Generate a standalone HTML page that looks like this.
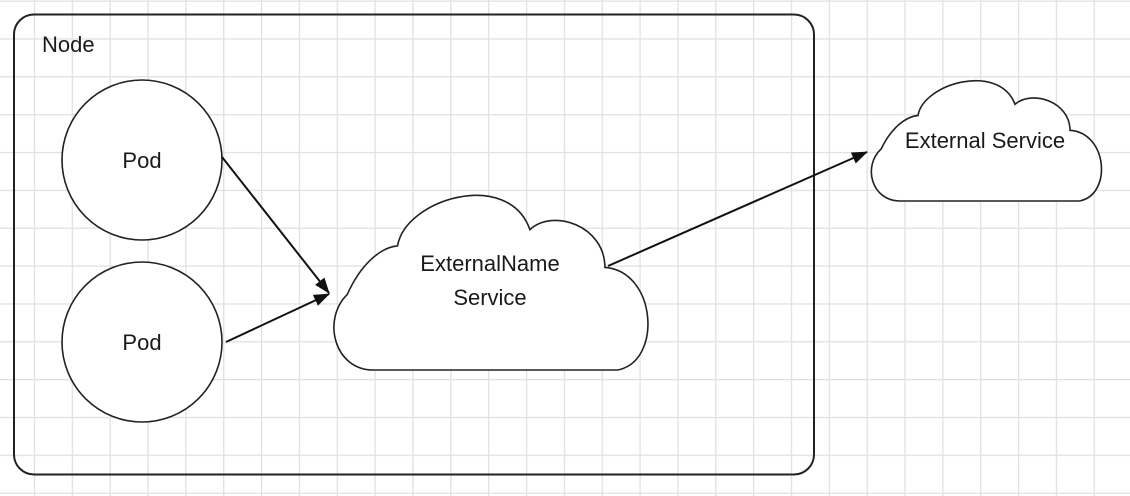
<!DOCTYPE html>
<html><head><style>
html,body{margin:0;padding:0;background:#fff;}
svg{display:block;}
text{font-family:"Liberation Sans",sans-serif;font-size:22px;fill:#1a1a1a;}
</style></head><body>
<svg width="1130" height="496" viewBox="0 0 1130 496" xmlns="http://www.w3.org/2000/svg">
<defs>
<pattern id="g" x="-4" y="0.5" width="37.85" height="37.85" patternUnits="userSpaceOnUse">
<path d="M0.5 0V37.85M0 0.5H37.85" stroke="#e0e0e0" stroke-width="1.5" fill="none"/>
</pattern>
<marker id="a" markerWidth="16" markerHeight="12" refX="15" refY="6" orient="auto" markerUnits="userSpaceOnUse">
<path d="M0 0L16 6L0 12Z" fill="#111"/>
</marker>
</defs>
<rect width="1130" height="496" fill="url(#g)"/>
<rect x="14" y="14.5" width="800" height="460" rx="20" fill="none" stroke="#222" stroke-width="2"/>
<text x="42" y="52">Node</text>
<circle cx="142" cy="160" r="80" fill="#fff" stroke="#222" stroke-width="1.6"/>
<circle cx="142" cy="342" r="80" fill="#fff" stroke="#222" stroke-width="1.6"/>
<text x="142" y="168" text-anchor="middle">Pod</text>
<text x="142" y="350" text-anchor="middle">Pod</text>
<path d="M373.1 370C334.4 370 321.6 319.6 347.3 294.4C360.2 265.6 379.5 247.6 397.6 245.8C405.3 199 508.3 168.4 529.9 229.6C553.4 208 604.9 226 604.9 267.4C656.4 271 662.9 361 617.8 370Z" fill="#fff" stroke="#222" stroke-width="1.6"/>
<path d="M900 201C871.7 201 862.3 166.3 881.2 148.9C890.6 129.1 904.8 116.7 918 115.4C923.6 83.2 999.2 62.1 1015 104.3C1032.2 89.4 1070 101.8 1070 130.3C1107.7 132.8 1112.4 194.8 1079.4 201Z" fill="#fff" stroke="#222" stroke-width="1.6"/>
<text x="490" y="271" text-anchor="middle">ExternalName</text>
<text x="490" y="305" text-anchor="middle">Service</text>
<text x="985" y="148" text-anchor="middle">External Service</text>
<line x1="222" y1="157" x2="329" y2="293" stroke="#111" stroke-width="2" marker-end="url(#a)"/>
<line x1="226" y1="342" x2="329" y2="294" stroke="#111" stroke-width="2" marker-end="url(#a)"/>
<line x1="608" y1="266" x2="867" y2="152" stroke="#111" stroke-width="2" marker-end="url(#a)"/>
</svg>
</body></html>
